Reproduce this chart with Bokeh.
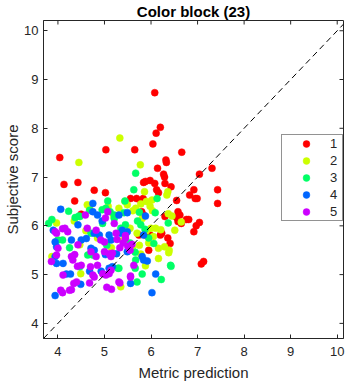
import math
from bokeh.plotting import figure
from bokeh.models import Range1d, FixedTicker, Slope, Legend, LegendItem
from bokeh.embed import file_html
from bokeh.resources import INLINE

# ---- data ----
x1 = [4.04,4.13,4.43,4.36,4.50,4.78,5.02,5.03,5.65,6.20,6.08,6.11,6.04,6.66,6.14,6.32,6.33,6.27,6.29,5.88,
      5.98,6.08,5.84,6.30,6.43,6.12,6.16,5.56,5.69,5.83,5.79,6.55,6.58,6.62,6.55,6.76,6.81,7.04,6.97,6.92,
      6.92,6.83,6.95,6.99,7.04,7.31,7.43,7.43,6.30,6.65,6.23,6.20,6.36,5.80,5.88,5.98,5.74,6.41,7.08,7.13,
      5.95,5.84,6.58]
y1 = [7.40,6.85,6.89,6.51,6.24,6.73,6.68,7.56,7.56,8.02,8.73,7.90,7.68,7.51,7.18,7.35,7.30,7.06,7.00,6.91,
      6.93,6.87,6.89,6.87,6.80,6.74,6.68,6.56,6.56,6.56,6.49,6.52,6.29,6.22,6.17,6.13,6.13,6.07,6.00,5.88,
      6.74,6.63,6.56,6.56,7.06,7.18,6.74,6.46,6.19,6.05,5.85,5.81,5.75,6.29,5.81,5.81,5.81,5.64,5.22,5.27,
      5.50,6.22,6.09]

x2 = [5.33,4.45,5.77,5.86,6.02,6.36,6.34,6.03,5.98,5.67,6.37,6.45,5.81,6.51,6.21,6.16,6.29,6.39,5.31,5.08,
      3.97,3.87,5.35,5.88,6.16,6.38,5.78,5.90,6.65,4.68,4.63,5.49,5.44,5.61,4.47,4.49,5.78,5.55,5.70,5.40,
      5.90,6.00,5.75,5.60,5.95,6.05,4.85,5.15,4.60,4.35,5.20,6.10]
y2 = [7.80,7.30,7.25,6.70,6.53,6.70,6.63,6.31,6.40,6.36,6.25,6.20,6.15,5.91,5.92,5.54,5.57,5.50,6.36,6.40,
      6.06,5.37,4.75,5.18,5.33,5.45,6.45,6.50,6.08,6.36,6.43,6.43,6.50,6.31,5.61,5.02,5.42,5.95,5.85,5.70,
      5.90,5.95,5.60,5.55,5.65,5.78,5.75,5.55,5.90,6.10,6.20,5.95]

x3 = [5.67,5.63,5.07,5.44,3.87,4.23,4.37,4.45,4.68,4.95,5.21,5.42,5.75,6.09,6.13,6.37,5.87,6.43,6.22,5.81,
      5.70,5.29,5.66,4.47,3.80,5.03,5.12,5.21,5.45,4.47,5.71,4.00,4.10,4.71,4.96,4.64,5.67,4.75,5.66,6.06,
      5.78,6.42,5.31,5.35,5.55,5.95,4.25,5.05]
y3 = [7.08,6.74,6.51,6.51,6.13,6.30,6.17,6.20,6.32,6.33,6.15,6.27,6.28,6.27,6.56,6.06,5.93,5.17,4.90,5.01,
      4.85,5.13,5.13,5.16,6.05,6.36,6.29,6.22,6.02,6.19,6.10,5.71,5.71,5.85,6.05,5.40,5.30,5.40,5.46,5.64,
      6.02,5.19,5.13,5.95,5.65,5.75,5.55,5.60]

x4 = [4.06,4.75,5.49,5.88,3.90,4.43,3.94,6.02,6.10,5.56,4.49,4.18,4.27,4.11,5.92,3.94,4.75,4.85,4.95,5.31,
      5.38,5.49,3.94,3.97,4.29,4.50,4.61,4.78,4.89,5.10,5.14,4.78,4.71,5.35,3.97,4.68,4.93,5.10,5.17,5.49,
      5.26,5.02,5.84,5.81,5.84]
y4 = [6.34,6.46,6.27,6.20,5.91,6.02,4.57,4.63,5.01,4.82,4.80,5.01,5.01,5.23,5.28,5.37,6.29,6.22,6.10,6.22,
      5.91,5.88,5.67,5.57,5.71,5.71,5.74,5.85,5.81,5.81,5.71,5.50,5.54,5.85,5.23,5.07,5.07,5.13,5.16,5.47,
      5.43,5.41,5.81,5.37,5.30]

x5 = [4.06,4.10,4.29,4.34,4.40,4.68,5.05,5.15,5.33,5.56,3.86,4.59,5.07,3.97,4.10,4.21,5.21,4.15,3.94,4.82,
      4.63,4.92,5.00,5.27,5.40,5.33,5.45,5.55,5.59,5.50,4.00,3.97,4.43,4.71,4.82,5.00,5.17,4.32,4.42,4.50,
      4.70,4.85,4.75,4.78,4.96,5.03,5.10,5.14,5.31,5.56,5.10,5.14,5.63,4.29,4.36,4.11,4.25,5.02,5.25,5.45]
y5 = [4.68,4.63,4.69,4.82,4.85,4.83,4.74,4.70,4.83,4.97,5.27,6.22,6.29,5.85,5.94,5.88,6.05,5.95,5.88,5.91,
      5.95,5.71,5.67,5.72,5.65,5.55,5.74,5.50,5.62,5.58,5.54,5.40,5.61,5.47,5.37,5.47,5.44,5.30,5.17,5.19,
      5.16,5.19,4.99,4.95,5.02,4.99,5.02,5.09,4.85,4.95,5.43,5.37,5.19,5.37,5.41,4.99,4.68,6.16,5.85,5.80]

groups = ["1", "2", "3", "4", "5"]
colors = ["#ff0000", "#ccff00", "#00ff66", "#0066ff", "#cc00ff"]
ticks = [4, 5, 6, 7, 8, 9, 10]
x_limits = (3.69, 10.135)
y_limits = (3.69, 10.21)

FONT = "Liberation Sans"
DARK = "#262626"

p = figure(width=351, height=385, output_backend="svg", toolbar_location=None,
           x_range=Range1d(*x_limits), y_range=Range1d(*y_limits),
           min_border_left=43, min_border_right=8, min_border_top=20, min_border_bottom=47,
           title="Color block (23)")
p.background_fill_color = "white"
p.border_fill_color = "white"
p.outline_line_color = DARK
p.xgrid.visible = False
p.ygrid.visible = False

p.title.align = "center"
p.title.vertical_align = "middle"
p.title.text_font = FONT
p.title.text_font_size = "15px"
p.title.text_font_style = "bold"
p.title.text_color = "black"
p.title.standoff = 0
p.title.offset = 0

for ax in (p.xaxis[0], p.yaxis[0]):
    ax.ticker = FixedTicker(ticks=ticks)
    ax.major_tick_in = 4
    ax.major_tick_out = 0
    ax.minor_tick_line_color = None
    ax.axis_line_color = DARK
    ax.major_tick_line_color = DARK
    ax.major_label_text_color = DARK
    ax.major_label_text_font = FONT
    ax.major_label_text_font_size = "13px"
    ax.axis_label_text_font = FONT
    ax.axis_label_text_font_size = "15px"
    ax.axis_label_text_font_style = "normal"
    ax.axis_label_text_color = DARK

p.xaxis[0].axis_label = "Metric prediction"
p.xaxis[0].major_label_standoff = 8
p.xaxis[0].axis_label_standoff = 5
p.yaxis[0].axis_label = "Subjective score"
p.yaxis[0].major_label_standoff = 5
p.yaxis[0].axis_label_standoff = 0

# inward tick marks on the top and right edges of the box
p.scatter(ticks, [y_limits[1]] * len(ticks), marker="dash", size=8, angle=math.pi / 2,
          line_color=DARK, line_width=1)
p.scatter([x_limits[1]] * len(ticks), ticks, marker="dash", size=8,
          line_color=DARK, line_width=1)

p.add_layout(Slope(gradient=1, y_intercept=0, line_color="black", line_width=1, line_dash="6 4"))

renderers = []
for xs, ys, c in zip([x1, x2, x3, x4, x5], [y1, y2, y3, y4, y5], colors):
    r = p.scatter(xs, ys, size=7, fill_color=c, line_color=c, line_width=0.5)
    renderers.append(r)

legend = Legend(items=[LegendItem(label=g, renderers=[r]) for g, r in zip(groups, renderers)],
                location=(238, 117), glyph_width=48, glyph_height=17, label_height=17, label_width=12,
                padding=0, spacing=0, margin=0, label_standoff=0,
                border_line_color=DARK, border_line_width=1, background_fill_color="white",
                background_fill_alpha=1.0, label_text_font=FONT, label_text_font_size="13px",
                label_text_color=DARK)
p.add_layout(legend)

open("out.html", "w").write(file_html(p, INLINE))
